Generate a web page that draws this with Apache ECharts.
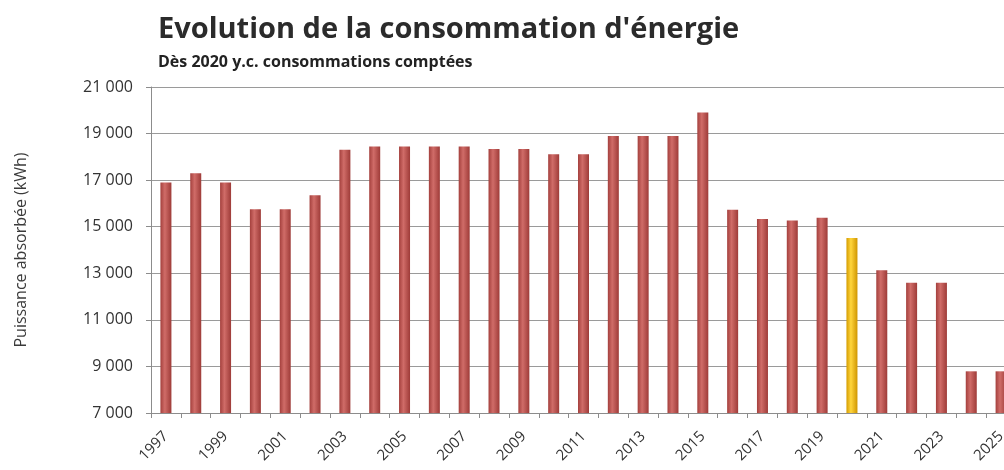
<!DOCTYPE html>
<html>
<head>
<meta charset="utf-8">
<script src="https://cdn.jsdelivr.net/npm/echarts@6/dist/echarts.min.js"></script>
<style>
  html, body { margin: 0; padding: 0; background: #fff; }
  #chart { width: 1004px; height: 470px; }
</style>
</head>
<body>
<div id="chart"></div>
<script>
// annees et consommation (kWh)
var years = ["1997", "1998", "1999", "2000", "2001", "2002", "2003", "2004", "2005", "2006",
    "2007", "2008", "2009", "2010", "2011", "2012", "2013", "2014", "2015", "2016",
    "2017", "2018", "2019", "2020", "2021", "2022", "2023", "2024", "2025"];
var consommation = [16900, 17300, 16900, 15750, 15750, 16350, 18300, 18450, 18450, 18450,
    18450, 18340, 18340, 18110, 18110, 18900, 18900, 18900, 19900, 15730,
    15330, 15270, 15380, 14520, 13130, 12590, 12590, 8790, 8790];
var highlightYear = "2020";

function barGradient(c1, c2, c3) {
    return new echarts.graphic.LinearGradient(0, 0, 1, 0, [
        { offset: 0, color: c1 },
        { offset: 0.4, color: c2 },
        { offset: 1, color: c3 }
    ]);
}

var redFill = barGradient("#a4403d", "#d06c68", "#9e3b38");
var yellowFill = barGradient("#d49c00", "#ffd53c", "#cf9500");

var barData = [];
for (var i = 0; i < years.length; i++) {
    barData.push({
        value: consommation[i],
        itemStyle: { color: years[i] == highlightYear ? yellowFill : redFill }
    });
}

function fmtSpace(v) {
    return String(v).replace(/\B(?=(\d{3})+(?!\d))/g, " ");
}

var font = "Open Sans";
var myChart = echarts.init(document.getElementById("chart"), null, { renderer: "canvas" });
var option = {
    backgroundColor: "#ffffff",
    animation: false,
    textStyle: { fontFamily: font },
    title: {
        text: "Evolution de la consommation d'énergie",
        subtext: "Dès 2020 y.c. consommations comptées",
        left: 153,
        top: 10,
        itemGap: 10,
        textStyle: { fontFamily: font, fontSize: 29, fontWeight: "bold", color: "#2b2b2b" },
        subtextStyle: { fontFamily: font, fontSize: 16, fontWeight: "bold", color: "#222" }
    },
    grid: { left: 151, top: 87, width: 865, height: 326, outerBoundsMode: "none" },
    xAxis: {
        type: "category",
        data: years,
        axisLine: { lineStyle: { color: "#8c8c8c", width: 1 } },
        axisTick: { show: true, alignWithLabel: false, interval: 0, length: 5, lineStyle: { color: "#8c8c8c" } },
        axisLabel: { interval: 1, rotate: 45, margin: 21, fontSize: 15, color: "#333", fontFamily: font }
    },
    yAxis: {
        type: "value",
        min: 7000,
        max: 21000,
        interval: 2000,
        name: "Puissance absorbée (kWh)",
        nameLocation: "middle",
        nameGap: 122,
        nameTextStyle: { fontSize: 16, color: "#3a3a3a", fontFamily: font },
        axisLine: { show: true, lineStyle: { color: "#8c8c8c" } },
        axisTick: { show: true, length: 5, lineStyle: { color: "#8c8c8c" } },
        axisLabel: { margin: 18, fontSize: 16, color: "#333", fontFamily: font, formatter: fmtSpace },
        splitLine: { lineStyle: { color: "#9a9a9a", width: 1 } }
    },
    series: [{
        type: "bar",
        data: barData,
        barWidth: 11
    }]
};
myChart.setOption(option);
</script>
</body>
</html>
